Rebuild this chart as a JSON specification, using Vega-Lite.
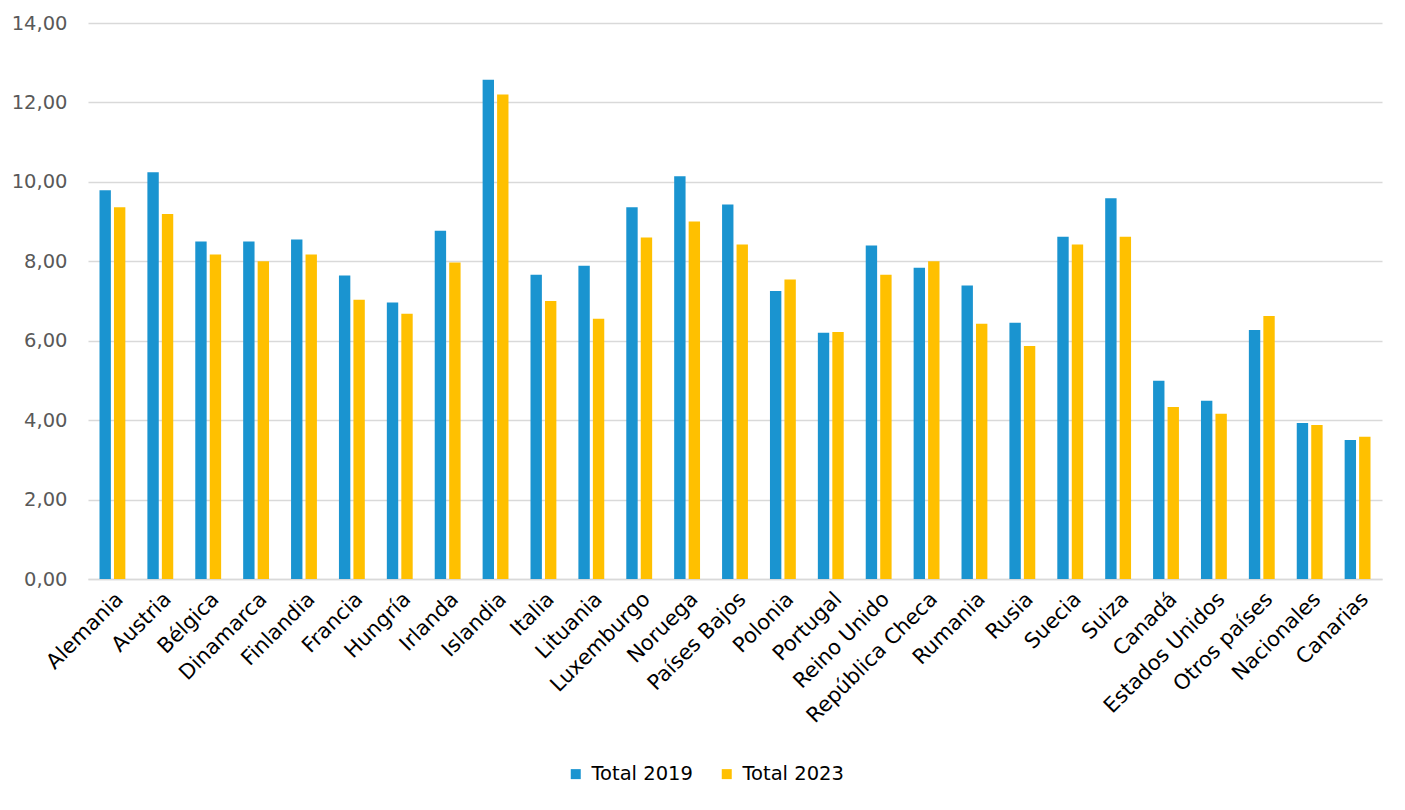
{
  "$schema": "https://vega.github.io/schema/vega-lite/v6.json",
  "autosize": "none",
  "width": 1294,
  "height": 556,
  "padding": {"left": 88, "top": 23, "right": 23, "bottom": 231},
  "background": "white",
  "config": {
    "font": "DejaVu Sans",
    "view": {"stroke": null}
  },
  "data": {
    "values": [
      {"pais": "Alemania", "serie": "Total 2019", "valor": 9.79},
      {"pais": "Alemania", "serie": "Total 2023", "valor": 9.36},
      {"pais": "Austria", "serie": "Total 2019", "valor": 10.24},
      {"pais": "Austria", "serie": "Total 2023", "valor": 9.19},
      {"pais": "Bélgica", "serie": "Total 2019", "valor": 8.50},
      {"pais": "Bélgica", "serie": "Total 2023", "valor": 8.17},
      {"pais": "Dinamarca", "serie": "Total 2019", "valor": 8.50},
      {"pais": "Dinamarca", "serie": "Total 2023", "valor": 8.00},
      {"pais": "Finlandia", "serie": "Total 2019", "valor": 8.55},
      {"pais": "Finlandia", "serie": "Total 2023", "valor": 8.17},
      {"pais": "Francia", "serie": "Total 2019", "valor": 7.64},
      {"pais": "Francia", "serie": "Total 2023", "valor": 7.03},
      {"pais": "Hungría", "serie": "Total 2019", "valor": 6.96},
      {"pais": "Hungría", "serie": "Total 2023", "valor": 6.68},
      {"pais": "Irlanda", "serie": "Total 2019", "valor": 8.77},
      {"pais": "Irlanda", "serie": "Total 2023", "valor": 7.97},
      {"pais": "Islandia", "serie": "Total 2019", "valor": 12.57},
      {"pais": "Islandia", "serie": "Total 2023", "valor": 12.20},
      {"pais": "Italia", "serie": "Total 2019", "valor": 7.66},
      {"pais": "Italia", "serie": "Total 2023", "valor": 7.00},
      {"pais": "Lituania", "serie": "Total 2019", "valor": 7.89},
      {"pais": "Lituania", "serie": "Total 2023", "valor": 6.55},
      {"pais": "Luxemburgo", "serie": "Total 2019", "valor": 9.36},
      {"pais": "Luxemburgo", "serie": "Total 2023", "valor": 8.60},
      {"pais": "Noruega", "serie": "Total 2019", "valor": 10.14},
      {"pais": "Noruega", "serie": "Total 2023", "valor": 9.00},
      {"pais": "Países Bajos", "serie": "Total 2019", "valor": 9.43},
      {"pais": "Países Bajos", "serie": "Total 2023", "valor": 8.42},
      {"pais": "Polonia", "serie": "Total 2019", "valor": 7.25},
      {"pais": "Polonia", "serie": "Total 2023", "valor": 7.54},
      {"pais": "Portugal", "serie": "Total 2019", "valor": 6.20},
      {"pais": "Portugal", "serie": "Total 2023", "valor": 6.22},
      {"pais": "Reino Unido", "serie": "Total 2019", "valor": 8.40},
      {"pais": "Reino Unido", "serie": "Total 2023", "valor": 7.66},
      {"pais": "República Checa", "serie": "Total 2019", "valor": 7.84},
      {"pais": "República Checa", "serie": "Total 2023", "valor": 8.00},
      {"pais": "Rumania", "serie": "Total 2019", "valor": 7.39},
      {"pais": "Rumania", "serie": "Total 2023", "valor": 6.43},
      {"pais": "Rusia", "serie": "Total 2019", "valor": 6.45},
      {"pais": "Rusia", "serie": "Total 2023", "valor": 5.87},
      {"pais": "Suecia", "serie": "Total 2019", "valor": 8.62},
      {"pais": "Suecia", "serie": "Total 2023", "valor": 8.42},
      {"pais": "Suiza", "serie": "Total 2019", "valor": 9.59},
      {"pais": "Suiza", "serie": "Total 2023", "valor": 8.62},
      {"pais": "Canadá", "serie": "Total 2019", "valor": 4.99},
      {"pais": "Canadá", "serie": "Total 2023", "valor": 4.33},
      {"pais": "Estados Unidos", "serie": "Total 2019", "valor": 4.49},
      {"pais": "Estados Unidos", "serie": "Total 2023", "valor": 4.16},
      {"pais": "Otros países", "serie": "Total 2019", "valor": 6.27},
      {"pais": "Otros países", "serie": "Total 2023", "valor": 6.62},
      {"pais": "Nacionales", "serie": "Total 2019", "valor": 3.93},
      {"pais": "Nacionales", "serie": "Total 2023", "valor": 3.88},
      {"pais": "Canarias", "serie": "Total 2019", "valor": 3.50},
      {"pais": "Canarias", "serie": "Total 2023", "valor": 3.58}
    ]
  },
  "mark": {"type": "bar"},
  "encoding": {
    "x": {
      "field": "pais",
      "type": "nominal",
      "sort": null,
      "title": null,
      "scale": {"paddingInner": 0.46, "paddingOuter": 0.24},
      "axis": {
        "labelAngle": -45,
        "labelFontSize": 21,
        "labelColor": "#000000",
        "labelPadding": 9,
        "ticks": false,
        "domain": true,
        "domainColor": "#d9d9d9",
        "domainWidth": 1.5
      }
    },
    "xOffset": {
      "field": "serie",
      "type": "nominal",
      "scale": {"paddingInner": 0.214}
    },
    "y": {
      "field": "valor",
      "type": "quantitative",
      "title": null,
      "scale": {"domain": [0, 14], "nice": false},
      "axis": {
        "values": [0, 2, 4, 6, 8, 10, 12, 14],
        "labelExpr": "replace(format(datum.value, '.2f'), '.', ',')",
        "labelFontSize": 19.5,
        "labelColor": "#595959",
        "labelPadding": 21,
        "ticks": false,
        "domain": false,
        "grid": true,
        "gridColor": "#d9d9d9",
        "gridWidth": 1.5
      }
    },
    "color": {
      "field": "serie",
      "type": "nominal",
      "title": null,
      "scale": {"domain": ["Total 2019", "Total 2023"], "range": ["#1a94d0", "#ffc000"]},
      "legend": {
        "orient": "none",
        "legendX": 478,
        "legendY": 741,
        "direction": "horizontal",
        "symbolType": "square",
        "symbolSize": 100,
        "symbolStrokeWidth": 0,
        "labelFontSize": 19.5,
        "labelColor": "#000000",
        "labelOffset": 6,
        "columnPadding": 24
      }
    }
  }
}
